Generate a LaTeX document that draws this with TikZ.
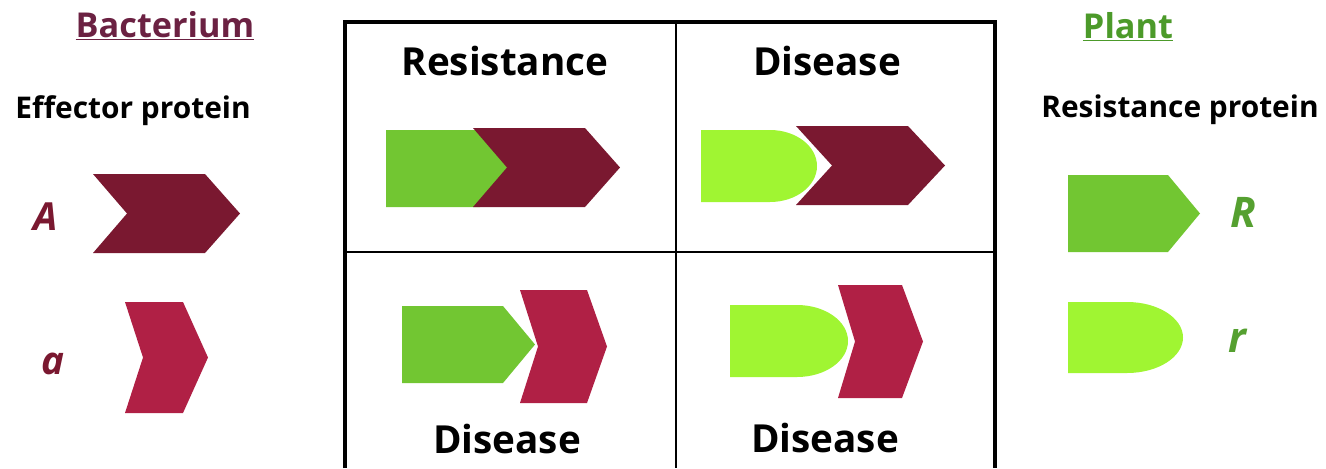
\documentclass[tikz,border=0pt]{standalone}
\usepackage{fontspec}
\setmainfont{Open Sans}
\usetikzlibrary{positioning}

\definecolor{effdark}{HTML}{7A1830}
\definecolor{effred}{HTML}{B02045}
\definecolor{bactcol}{HTML}{6B2142}
\definecolor{resgreen}{HTML}{72C632}
\definecolor{reslight}{HTML}{A0F532}
\definecolor{plantcol}{HTML}{4C9A2A}
\definecolor{allelegreen}{HTML}{55A030}

% effector chevron: left x, right x, notch x, tip x, top y, bottom y, style
\newcommand{\chev}[7]{%
  \fill[#7] (#1,#5) -- (#2,#5) -- (#4,{(#5+#6)/2}) -- (#2,#6)
    -- (#1,#6) -- (#3,{(#5+#6)/2}) -- cycle;}
% R protein: left x, top y, bottom y, corner x, tip x, style
\newcommand{\rprot}[6]{%
  \fill[#6] (#1,#2) -- (#4,#2) -- (#5,{(#2+#3)/2}) -- (#4,#3)
    -- (#1,#3) -- cycle;}
% r protein (rounded): left x, top y, bottom y, flat end x, tip x, style
\newcommand{\rround}[6]{%
  \fill[#6] (#1,#2) -- (#4,#2)
    .. controls ({0.448*#4+0.552*#5},#2) and (#5,{0.776*#2+0.224*#3})
    .. (#5,{(#2+#3)/2})
    .. controls (#5,{0.224*#2+0.776*#3}) and ({0.448*#4+0.552*#5},#3)
    .. (#4,#3) -- (#1,#3) -- cycle;}

\begin{document}
\begin{tikzpicture}[x=0.02cm, y=-0.02cm,
    head/.style={anchor=base, font=\bfseries\fontsize{19.5}{22}\selectfont},
    sub/.style={anchor=base, font=\bfseries\fontsize{17}{20}\selectfont},
    cell/.style={anchor=base, font=\bfseries\fontsize{22}{26}\selectfont},
    allele/.style={anchor=base, font=\bfseries\itshape\fontsize{22}{26}\selectfont},
    bigA/.style={fill=effdark},
    smalla/.style={fill=effred},
    bigR/.style={fill=resgreen},
    smallr/.style={fill=reslight}]
  \useasboundingbox (0,0) rectangle (1326,468);

  % left: bacterium
  \node[head, text=bactcol] (bact) at (165,37) {\underline{Bacterium}};
  \node[sub] (eff) at (133,118) {Effector protein};
  \node[allele, text=effdark] (lA) at (46,230) {A};
  \node[allele, text=effdark] (la) at (53,374) {a};
  \chev{93}{205}{127}{240}{174}{253}{bigA}
  \chev{125}{183}{143}{208}{302}{413}{smalla}

  % right: plant
  \node[head, text=plantcol] (plant) at (1128,38) {\underline{Plant}};
  \node[sub] (resp) at (1180,117) {Resistance protein};
  \node[allele, text=allelegreen, font=\bfseries\itshape\fontsize{24}{28}\selectfont]
    (lR) at (1243,227) {R};
  \node[allele, text=allelegreen, font=\bfseries\itshape\fontsize{24}{28}\selectfont]
    (lr) at (1237,352) {r};
  \rprot{1068}{175}{252}{1168}{1200}{bigR}
  \rround{1068}{302}{373}{1127}{1183}{smallr}

  % grid
  \draw[line width=1.8pt] (345,468) |- (995,22) -- (995,468);
  \draw[line width=1pt] (676,22) -- (676,468);
  \draw[line width=1pt] (345,252) -- (995,252);

  % cells
  \node[cell] (c11) at (505,75) {Resistance};
  \node[cell] (c12) at (827,75) {Disease};
  \node[cell] (c21) at (507,453) {Disease};
  \node[cell] (c22) at (825,452) {Disease};

  \rprot{386}{130}{207}{480}{514}{bigR}
  \chev{473}{585}{507}{620}{128}{207}{bigA}

  \rround{701}{130}{202}{770}{817}{smallr}
  \chev{796}{908}{832}{945}{126}{205}{bigA}

  \rprot{402}{306}{383}{503}{535}{bigR}
  \chev{520}{587}{538}{607}{290}{403}{smalla}

  \rround{730}{305}{377}{797}{848}{smallr}
  \chev{838}{902}{855}{923}{285}{398}{smalla}
\end{tikzpicture}
\end{document}
